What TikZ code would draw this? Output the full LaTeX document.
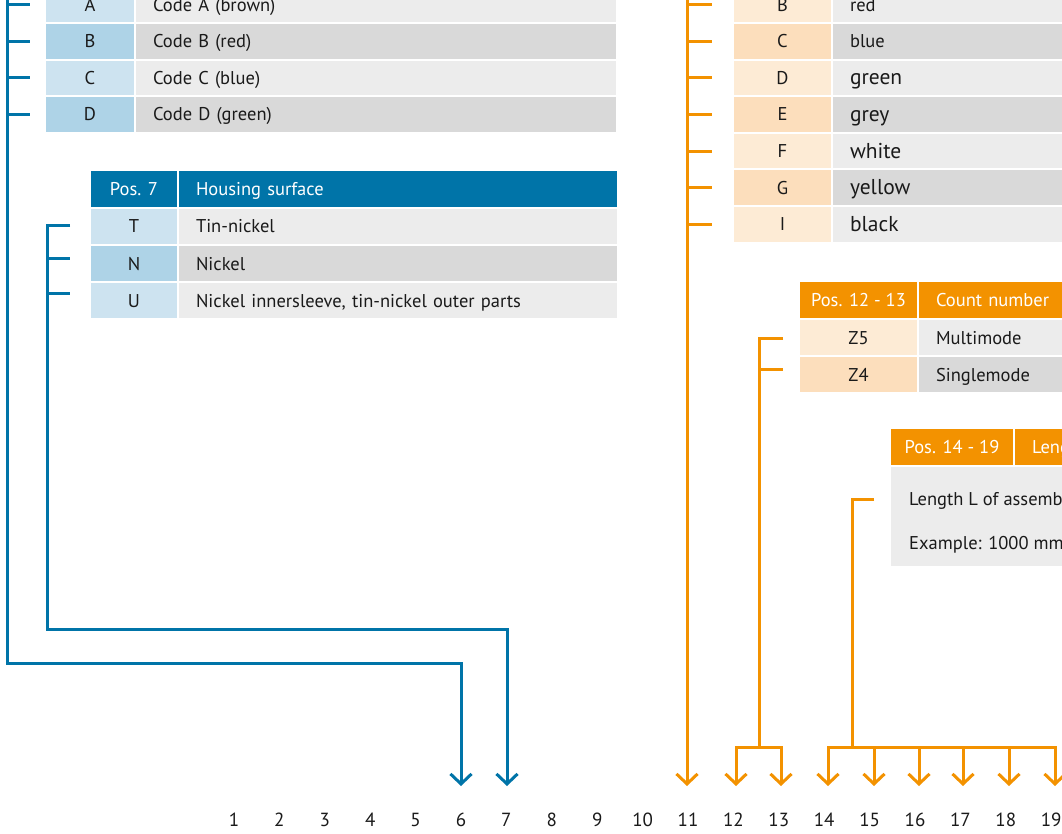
\documentclass[tikz,border=0pt]{standalone}
\usepackage{fontspec}
\setmainfont{PT Sans}
\usetikzlibrary{arrows.meta}
\definecolor{bluehead}{RGB}{0,116,168}
\definecolor{bluelight}{RGB}{205,227,240}
\definecolor{bluedark}{RGB}{174,211,231}
\definecolor{graylight}{RGB}{236,236,236}
\definecolor{graydark}{RGB}{217,217,217}
\definecolor{orangehead}{RGB}{243,146,0}
\definecolor{orangelight}{RGB}{253,235,213}
\definecolor{orangedark}{RGB}{252,222,188}
\definecolor{textcol}{RGB}{26,26,26}
\tikzset{
  cell/.style={rectangle, inner ysep=0pt, outer sep=0pt, anchor=north west,
    font=\fontsize{18.5}{22}\selectfont, text=textcol, text height=13pt, text depth=0pt},
  codecell/.style={cell, inner xsep=0pt, align=center},
  txtcell/.style={cell, inner xsep=17pt, align=left},
  headcell/.style={cell, text=white},
  plaintext/.style={inner sep=0pt, anchor=west, font=\fontsize{18.5}{22}\selectfont,
    text=textcol, text height=13pt, text depth=0pt},
  bigtext/.style={font=\fontsize{21.5}{24}\selectfont, text height=14pt},
  bline/.style={draw=bluehead, line width=3pt},
  oline/.style={draw=orangehead, line width=3pt},
  tip/.style={-{Straight Barb[length=10pt,width=21pt]}},
  numlab/.style={font=\fontsize{19}{22}\selectfont, text=textcol, inner sep=0pt}
}
\begin{document}
\begin{tikzpicture}[x=1pt,y=-1pt]
\useasboundingbox (0,0) rectangle (1062,834);
\clip (0,0) rectangle (1062,834);
\fill[white] (0,0) rectangle (1062,834);

% ---------- Table 1 (blue, codes A-D) ----------
\foreach \n/\y/\c/\t/\fc/\ft in {A/-12.6/A/Code A (brown)/bluelight/graylight,
                                  B/24/B/Code B (red)/bluedark/graydark,
                                  C/60.6/C/Code C (blue)/bluelight/graylight,
                                  D/97.2/D/Code D (green)/bluedark/graydark}{
  \node[codecell, fill=\fc, minimum width=88pt, minimum height=34.6pt] (ta\n) at (46,\y) {\c};
  \node[txtcell, fill=\ft, text width=446pt, minimum height=34.6pt] (tb\n) at (136,\y) {\t};
}

% ---------- Table 2 (blue, Pos. 7) ----------
\node[codecell, headcell, fill=bluehead, minimum width=86pt, minimum height=36pt] (h7a) at (91,171) {Pos. 7};
\node[txtcell, headcell, fill=bluehead, text width=404pt, minimum height=36pt] (h7b) at (179,171) {Housing surface};
\foreach \n/\y/\c/\t/\fc/\ft in {T/209/T/Tin-nickel/bluelight/graylight,
                                  N/246/N/Nickel/bluedark/graydark,
                                  U/283/U/{Nickel innersleeve, tin-nickel outer parts}/bluelight/graylight}{
  \node[codecell, fill=\fc, minimum width=86pt, minimum height=35pt] (sa\n) at (91,\y) {\c};
  \node[txtcell, fill=\ft, text width=404pt, minimum height=35pt] (sb\n) at (179,\y) {\t};
}

% ---------- Table 3 (orange, colours) ----------
\foreach \n/\y/\c/\t/\fc/\ft/\fs in {B/-12.6/B/red/orangelight/graylight/,
                                  C/24/C/blue/orangedark/graydark/,
                                  D/60.6/D/green/orangelight/graylight/bigtext,
                                  E/97.2/E/grey/orangedark/graydark/bigtext,
                                  F/133.8/F/white/orangelight/graylight/bigtext,
                                  G/170.4/G/yellow/orangedark/graydark/bigtext,
                                  I/207/I/black/orangelight/graylight/bigtext}{
  \node[codecell, fill=\fc, minimum width=97pt, minimum height=34.6pt] (oa\n) at (734,\y) {\c};
  \node[txtcell, fill=\ft, text width=250pt, minimum height=34.6pt, \fs] (ob\n) at (833,\y) {\t};
}

% ---------- Table 4 (orange, Pos. 12 - 13) ----------
\node[codecell, headcell, fill=orangehead, minimum width=117pt, minimum height=36pt] (h12a) at (800,282) {Pos. 12 - 13};
\node[txtcell, headcell, fill=orangehead, text width=180pt, minimum height=36pt] (h12b) at (919,282) {Count number};
\node[codecell, fill=orangelight, minimum width=117pt, minimum height=35pt] (za5) at (800,320) {Z5};
\node[txtcell, fill=graylight, text width=180pt, minimum height=35pt] (zb5) at (919,320) {Multimode};
\node[codecell, fill=orangedark, minimum width=117pt, minimum height=35pt] (za4) at (800,357) {Z4};
\node[txtcell, fill=graydark, text width=180pt, minimum height=35pt] (zb4) at (919,357) {Singlemode};

% ---------- Table 5 (orange, Pos. 14 - 19) ----------
\node[codecell, headcell, fill=orangehead, minimum width=122pt, minimum height=36pt] (h14a) at (891,429) {Pos. 14 - 19};
\node[txtcell, headcell, fill=orangehead, text width=150pt, minimum height=36pt] (h14b) at (1015,429) {Length};
\node[rectangle, anchor=north west, fill=graylight, inner sep=0pt, minimum width=300pt, minimum height=99pt] (lb) at (891,467) {};
\node[plaintext] (lb1) at (909,499) {Length L of assembly};
\node[plaintext] (lb2) at (909,543) {Example: 1000 mm};

% ---------- position numbers ----------
\foreach \i in {1,...,19}{
  \node[numlab] (n\i) at ({234+(\i-1)*45.4},820) {\i};
}

% arrow tip coordinates
\coordinate (a6) at (461,786);
\coordinate (a7) at (507,786);
\coordinate (a11) at (688,786);
\coordinate (a12) at (736,786);
\coordinate (a13) at (781,786);
\coordinate (a14) at (828,786);
\coordinate (a15) at (874,786);
\coordinate (a16) at (919,786);
\coordinate (a17) at (963,786);
\coordinate (a18) at (1009,786);
\coordinate (a19) at (1055,786);

% ---------- blue bracket 1 (table 1 -> 6) ----------
\coordinate (v1) at (7,0);
\coordinate (k1) at (30,0);
\draw[bline, tip] (7,-20) -- (7,663) -- (461,663) -- (a6);
\foreach \n in {A,B,C,D}{ \draw[bline] (ta\n.west -| v1) -- (ta\n.west -| k1); }

% ---------- blue bracket 2 (table 2 -> 7) ----------
\draw[bline, tip] (70,226) -- (47,226) -- (47,629) -- (507,629) -- (a7);
\draw[bline] (47,259) -- (70,259);
\draw[bline] (47,293) -- (70,293);

% ---------- orange bracket 1 (table 3 -> 11) ----------
\coordinate (v3) at (687,0);
\coordinate (k3) at (712,0);
\draw[oline, tip] (687,-20) -- (687,786);
\foreach \n in {B,C,D,E,F,G,I}{ \draw[oline] (oa\n.west -| v3) -- (oa\n.west -| k3); }

% ---------- orange bracket 2 (table 4 -> 12, 13) ----------
\draw[oline] (783,338) -- (759,338) -- (759,747);
\draw[oline] (759,369) -- (783,369);
\draw[oline, tip] (759,747) -- (736,747) -- (a12);
\draw[oline, tip] (759,747) -- (781,747) -- (a13);

% ---------- orange bracket 3 (table 5 -> 14..19) ----------
\draw[oline] (874,499) -- (852,499) -- (852,747);
\draw[oline, tip] (852,747) -- (828,747) -- (a14);
\draw[oline, tip] (852,747) -- (1055,747) -- (a19);
\foreach \k in {15,...,18}{
  \draw[oline, tip] (a\k |- 0,747) -- (a\k);
}
\end{tikzpicture}
\end{document}
